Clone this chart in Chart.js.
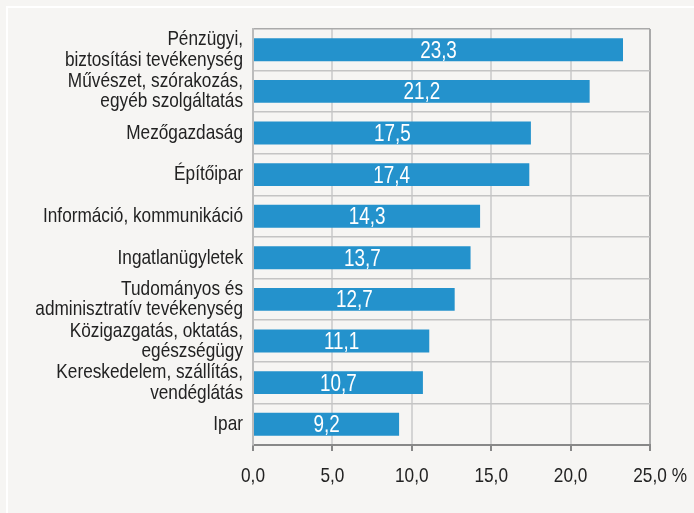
<!DOCTYPE html>
<html lang="hu">
<head>
<meta charset="UTF-8">
<title>Ágazatok</title>
<script src="https://cdn.jsdelivr.net/npm/chart.js"></script>
<style>
    body {
        margin: 0;
        padding: 0;
        background-color: #f6f5f3;
        overflow: hidden;
    }
    .frame {
        position: absolute;
        left: 6px;
        top: 6px;
        width: 800px;
        height: 600px;
        border-left: 2px solid #ffffff;
        border-top: 2px solid #ffffff;
    }
    #chart {
        position: absolute;
        left: 0;
        top: 0;
    }
</style>
</head>
<body>
<div class="frame"></div>
<canvas id="chart" width="694" height="513"></canvas>

<script>
    // categories, top to bottom
    const categories = [
        ['Pénzügyi,', 'biztosítási tevékenység'],
        ['Művészet, szórakozás,', 'egyéb szolgáltatás'],
        'Mezőgazdaság',
        'Építőipar',
        'Információ, kommunikáció',
        'Ingatlanügyletek',
        ['Tudományos és', 'adminisztratív tevékenység'],
        ['Közigazgatás, oktatás,', 'egészségügy'],
        ['Kereskedelem, szállítás,', 'vendéglátás'],
        'Ipar'
    ];
    const values = [23.3, 21.2, 17.5, 17.4, 14.3, 13.7, 12.7, 11.1, 10.7, 9.2];
    const xTicks = [0, 5, 10, 15, 20, 25];
    const unit = '%';

    // no Arial Narrow here: squeeze Liberation Sans horizontally instead
    const family = '"Liberation Sans", Arial, sans-serif';
    const squeeze = 0.82;
    const fmt = v => v.toFixed(1).replace('.', ',');

    function narrowText(ctx, text, x, y, align) {
        ctx.save();
        ctx.translate(x, y);
        ctx.scale(squeeze, 1);
        ctx.textAlign = align;
        ctx.fillText(text, 0, 0);
        ctx.restore();
    }

    const labelPlugin = {
        id: 'narrowLabels',
        afterDatasetsDraw(chart) {
            const ctx = chart.ctx;
            const meta = chart.getDatasetMeta(0);
            ctx.save();
            ctx.fillStyle = '#ffffff';
            ctx.font = '23px ' + family;
            ctx.textBaseline = 'alphabetic';
            meta.data.forEach((bar, i) => {
                narrowText(ctx, fmt(values[i]), (bar.x + bar.base) / 2, bar.y + 8, 'center');
            });
            ctx.restore();
        },
        afterDraw(chart) {
            const ctx = chart.ctx;
            const xs = chart.scales.x;
            const ys = chart.scales.y;
            ctx.save();
            ctx.fillStyle = '#222222';
            ctx.textBaseline = 'middle';

            // category labels
            ctx.font = '21px ' + family;
            const lh = 20.5;
            const right = ys.right - 10;
            categories.forEach((c, i) => {
                const lines = Array.isArray(c) ? c : [c];
                const y0 = ys.getPixelForValue(i) - (lines.length - 1) * lh / 2;
                lines.forEach((t, k) => narrowText(ctx, t, right, y0 + k * lh, 'right'));
            });

            // value axis labels
            ctx.font = '21px ' + family;
            const ty = xs.top + 31;
            xTicks.forEach(v => narrowText(ctx, fmt(v), xs.getPixelForValue(v), ty, 'center'));
            const last = xTicks[xTicks.length - 1];
            const w = ctx.measureText(fmt(last)).width * squeeze;
            narrowText(ctx, unit, xs.getPixelForValue(last) + w / 2 + 5, ty, 'left');
            ctx.restore();
        }
    };

    new Chart(document.getElementById('chart'), {
        type: 'bar',
        data: {
            labels: categories,
            datasets: [{
                data: values,
                backgroundColor: '#2492cc',
                categoryPercentage: 1,
                barPercentage: 0.55
            }]
        },
        options: {
            indexAxis: 'y',
            responsive: false,
            animation: false,
            layout: { padding: { top: 29, right: 44, left: 0, bottom: 0 } },
            plugins: {
                legend: { display: false },
                tooltip: { enabled: false }
            },
            scales: {
                x: {
                    min: 0,
                    max: 25,
                    afterBuildTicks: s => { s.ticks = xTicks.map(v => ({ value: v })); },
                    afterFit: s => { s.height = 68; },
                    ticks: { display: false },
                    grid: {
                        color: c => (c.tick && c.tick.value === 25) ? '#aaaaaa' : '#d4d4d4',
                        lineWidth: 2,
                        tickColor: '#888888',
                        tickLength: 6
                    },
                    border: { color: '#888888', width: 2 }
                },
                y: {
                    afterFit: s => { s.width = 253; },
                    ticks: { display: false },
                    grid: {
                        offset: true,
                        drawTicks: false,
                        color: c => c.index === 0 ? '#aaaaaa' : '#c4c4c4',
                        lineWidth: 1.5
                    },
                    border: { color: '#bbbbbb', width: 2 }
                }
            }
        },
        plugins: [labelPlugin]
    });
</script>
</body>
</html>
